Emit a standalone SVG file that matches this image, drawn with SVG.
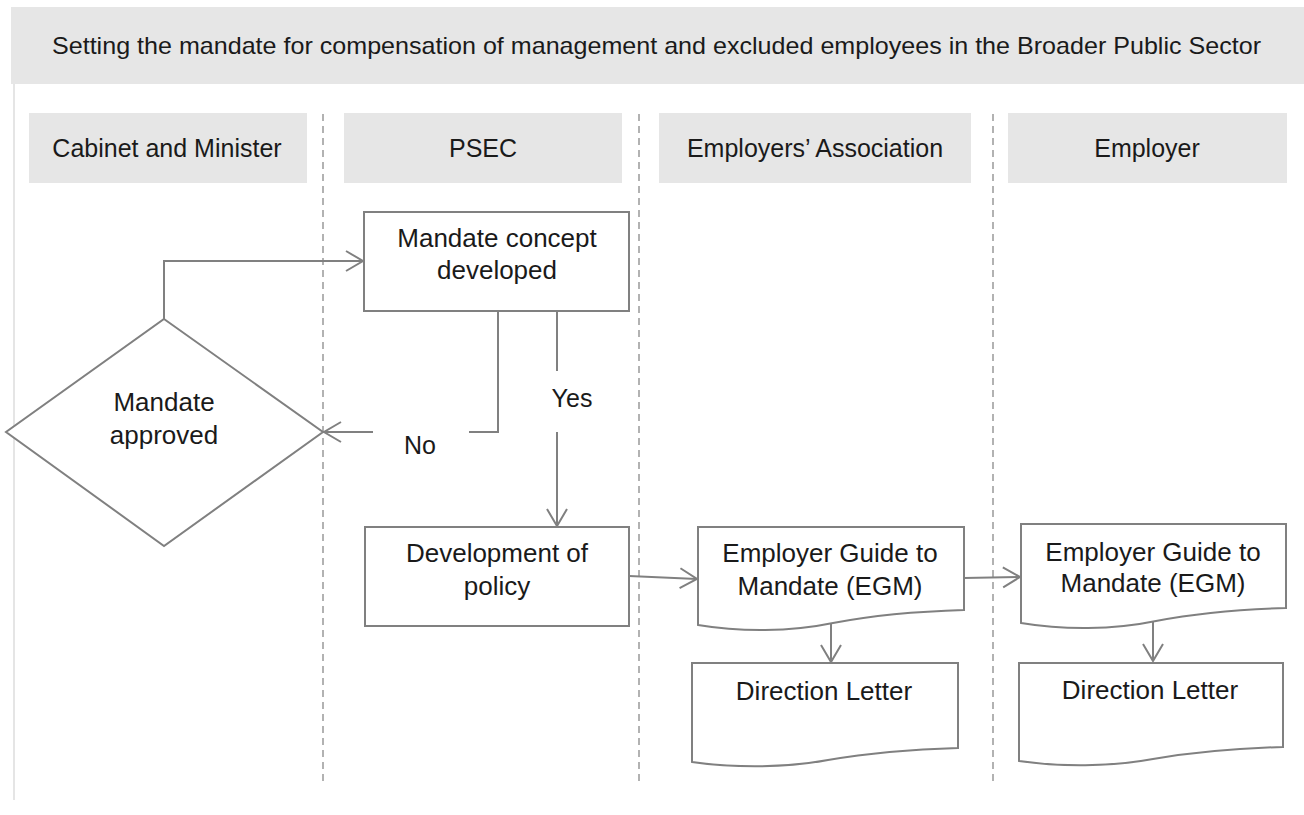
<svg xmlns="http://www.w3.org/2000/svg" width="1304" height="815" viewBox="0 0 1304 815">
<style>
  text { font-family: "Liberation Sans", Arial, sans-serif; fill: #1a1a1a; }
  .hdr { fill: #e6e6e6; stroke: none; }
  .hdrtxt { font-size: 25px; text-anchor: middle; }
  .node { fill: #ffffff; stroke: #808080; stroke-width: 2; }
  .ntxt { font-size: 26px; text-anchor: middle; }
  .lbl { font-size: 25px; text-anchor: middle; }
  .lane { stroke: #999999; stroke-width: 1.5; stroke-dasharray: 7 5; fill: none; }
  .conn { stroke: #808080; stroke-width: 2; fill: none; }
</style>
<defs>
  <marker id="arr" viewBox="-19 -12 21 24" refX="0" refY="0" markerWidth="21" markerHeight="24" markerUnits="userSpaceOnUse" orient="auto">
    <path d="M-17,-10 L0,0 L-17,10" fill="none" stroke="#808080" stroke-width="2"/>
  </marker>
</defs>
<rect width="1304" height="815" fill="#ffffff"/>

<g id="title">
  <rect class="hdr" x="11" y="7" width="1293" height="77"/>
  <text x="52" y="54" font-size="24" textLength="1209" lengthAdjust="spacingAndGlyphs">Setting the mandate for compensation of management and excluded employees in the Broader Public Sector</text>
</g>
<line x1="14" y1="84" x2="14" y2="800" stroke="#dddddd" stroke-width="1.5"/>

<g id="lanes">
  <line class="lane" x1="323" y1="114" x2="323" y2="786"/>
  <line class="lane" x1="639" y1="114" x2="639" y2="786"/>
  <line class="lane" x1="993" y1="114" x2="993" y2="786"/>
</g>

<g id="hdr-cabinet">
  <rect class="hdr" x="29" y="113" width="278" height="70"/>
  <text class="hdrtxt" x="167" y="157">Cabinet and Minister</text>
</g>
<g id="hdr-psec">
  <rect class="hdr" x="344" y="113" width="278" height="70"/>
  <text class="hdrtxt" x="483" y="157">PSEC</text>
</g>
<g id="hdr-ea">
  <rect class="hdr" x="659" y="113" width="312" height="70"/>
  <text class="hdrtxt" x="815" y="157">Employers’ Association</text>
</g>
<g id="hdr-employer">
  <rect class="hdr" x="1008" y="113" width="279" height="70"/>
  <text class="hdrtxt" x="1147" y="157">Employer</text>
</g>

<g id="connectors">
  <path class="conn" d="M164,319 V261 H363" marker-end="url(#arr)"/>
  <path class="conn" d="M498,311 V432 H469 M373,432 H324" marker-end="url(#arr)"/>
  <path class="conn" d="M557,311 V371 M557,432 V526" marker-end="url(#arr)"/>
  <path class="conn" d="M629,576 L697,579" marker-end="url(#arr)"/>
  <path class="conn" d="M964,578 L1020,577" marker-end="url(#arr)"/>
  <path class="conn" d="M831,624 V662" marker-end="url(#arr)"/>
  <path class="conn" d="M1153,622 V661" marker-end="url(#arr)"/>
  <text class="lbl" x="420" y="454">No</text>
  <text class="lbl" x="572" y="407">Yes</text>
</g>

<g id="mandate-approved">
  <path class="node" d="M164,319 L323,432 L164,546 L6,432 Z"/>
  <text class="ntxt" x="164" y="411">Mandate</text>
  <text class="ntxt" x="164" y="444">approved</text>
</g>

<g id="mandate-concept">
  <rect class="node" x="364" y="212" width="265" height="99"/>
  <text class="ntxt" x="497" y="247">Mandate concept</text>
  <text class="ntxt" x="497" y="279">developed</text>
</g>

<g id="development-policy">
  <rect class="node" x="365" y="527" width="264" height="99"/>
  <text class="ntxt" x="497" y="562">Development of</text>
  <text class="ntxt" x="497" y="595">policy</text>
</g>

<g id="egm-1">
  <path class="node" d="M698,527 H964 V610 C930,611 880,614 833,623 C790,632 740,632 698,625 Z"/>
  <text class="ntxt" x="830" y="562">Employer Guide to</text>
  <text class="ntxt" x="830" y="595">Mandate (EGM)</text>
</g>

<g id="direction-letter-1">
  <path class="node" d="M692,663 H958 V748 C924,749 875,752 828,760 C785,768 735,768 692,762 Z"/>
  <text class="ntxt" x="824" y="700">Direction Letter</text>
</g>

<g id="egm-2">
  <path class="node" d="M1021,524 H1286 V608 C1252,609 1203,612 1156,621 C1113,630 1063,630 1021,623 Z"/>
  <text class="ntxt" x="1153" y="561">Employer Guide to</text>
  <text class="ntxt" x="1153" y="592">Mandate (EGM)</text>
</g>

<g id="direction-letter-2">
  <path class="node" d="M1019,663 H1283 V747 C1249,748 1200,751 1153,759 C1110,767 1060,767 1019,761 Z"/>
  <text class="ntxt" x="1150" y="699">Direction Letter</text>
</g>
</svg>
